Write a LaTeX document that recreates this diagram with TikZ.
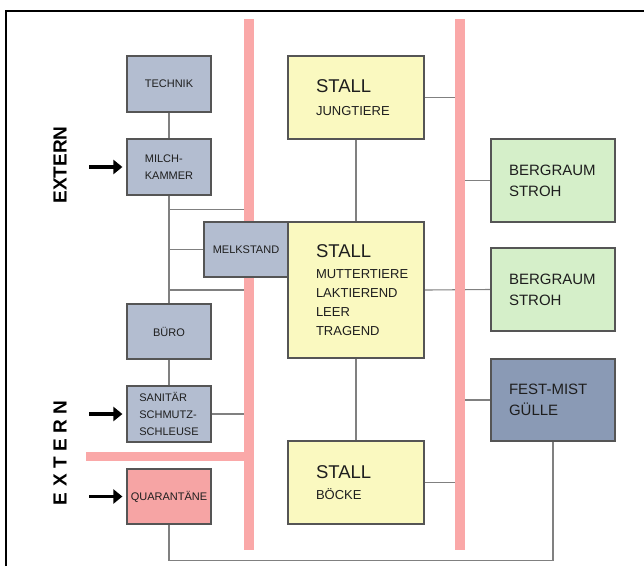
\documentclass[tikz,border=0pt]{standalone}
\usepackage{fontspec}
\setmainfont{Liberation Sans}
\usetikzlibrary{arrows.meta,positioning,backgrounds}
\definecolor{roomgray}{HTML}{B3BDD0}
\definecolor{stallyellow}{HTML}{FAF9C0}
\definecolor{storegreen}{HTML}{D5EFC9}
\definecolor{mistblue}{HTML}{8A9AB5}
\definecolor{quarred}{HTML}{F6A4A4}
\definecolor{wallred}{HTML}{FAA8A8}
\definecolor{boxline}{HTML}{555555}
\definecolor{linkgray}{HTML}{808080}
\definecolor{inktext}{HTML}{1E1E1E}

\begin{document}
\begin{tikzpicture}[x=1pt,y=-1pt,every node/.style={text=inktext},
room/.style={draw=boxline,line width=1.2pt,fill=roomgray,minimum width=84pt,minimum height=56pt,inner sep=0pt,font=\fontsize{11}{17}\selectfont},
stall/.style={draw=boxline,line width=1.2pt,fill=stallyellow,minimum width=136pt,minimum height=83pt,inner xsep=28pt,inner ysep=0pt,text width=80pt,align=left,font=\fontsize{13}{19}\selectfont},
store/.style={draw=boxline,line width=1.2pt,fill=storegreen,minimum width=124pt,minimum height=83pt,inner xsep=18pt,inner ysep=0pt,text width=88pt,align=left,font=\fontsize{15}{21}\selectfont},
link/.style={draw=linkgray,line width=1.1pt},
wall/.style={draw=wallred,line width=10pt},
feed/.style={line width=3.5pt,-{Triangle[length=9pt,width=14pt]},shorten >=4pt},
extern/.style={rotate=90,font=\fontsize{19}{22}\selectfont\bfseries,text=black}]
\useasboundingbox (0,0) rectangle (644,566);
\draw[line width=1.3pt] (6,566) -- (6,11) -- (644,11);
% rooms on the left
\node[room] (technik) at (169,84) {TECHNIK};
\node[room,align=left] (milch) at (169,167) {MILCH-\\KAMMER};
\node[room,minimum height=55pt] (melk) at (246,249.5) {MELKSTAND};
\node[room,minimum height=55pt] (buero) at (169,331.5) {BÜRO};
\node[room,align=left] (sanitaer) at (169,414) {SANITÄR\\SCHMUTZ-\\SCHLEUSE};
\node[room,minimum height=55pt,fill=quarred] (quar) at (169,496.5) {QUARANTÄNE};
% stalls
\node[stall] (stallj) at (356,97.5) {{\fontsize{18.5}{22}\selectfont STALL}\\[4pt]JUNGTIERE};
\node[stall,minimum height=136pt] (stallm) at (356,290) {{\fontsize{18.5}{22}\selectfont STALL}\\[2pt]MUTTERTIERE\\LAKTIEREND\\LEER\\TRAGEND};
\node[stall] (stallb) at (356,482.5) {{\fontsize{18.5}{22}\selectfont STALL}\\[2pt]BÖCKE};
% storage
\node[store] (berg1) at (553,180.5) {BERGRAUM\\STROH};
\node[store] (berg2) at (553,289.5) {BERGRAUM\\STROH};
\node[store,fill=mistblue,minimum height=82pt] (mist) at (553,400) {FEST-MIST\\GÜLLE};
\node[extern] (ext1) at (60,165) {EXTERN};
\node[extern] (ext2) at (60,453) {E\hspace{5.4pt}X\hspace{5.4pt}T\hspace{5.4pt}E\hspace{5.4pt}R\hspace{5.4pt}N};
\coordinate[left=37pt of milch.west] (in1);\coordinate[left=37pt of sanitaer.west] (in2);\coordinate[left=37pt of quar.west] (in3);
\foreach \a/\b in {in1/milch,in2/sanitaer,in3/quar}{\draw[feed] (\a)--(\b.west);}
\coordinate (wltop) at (248.5,19);\coordinate (wlbot) at (248.5,550);
\coordinate (wrtop) at (459.5,19);\coordinate (wrbot) at (459.5,550);
\coordinate (whend) at (86,456);
\begin{pgfonlayer}{background}
\foreach \a/\b in {technik.south/milch.north,milch.south/buero.north,buero.south/sanitaer.north,stallj.south/stallm.north,stallm.south/stallb.north,stallm.east/berg2.west}{\draw[link] (\a)--(\b);}
\foreach \a/\b in {sanitaer.east/wltop,stallj.east/wrtop,berg1.west/wrtop,mist.west/wrtop,stallb.east/wrtop}{\draw[link] (\a)--(\a -| \b);}
\draw[link] (milch.south) ++(0,14) coordinate (tap) -- (tap -| wltop);
\draw[link] (melk.west) -- (melk.west -| milch.south);
\draw[link] (stallm.west -| milch.south) -- (stallm.west -| wltop);
\draw[link] (quar.south) -- ++(0,36) -| (mist.south);
\draw[wall] (wltop) -- (wlbot);
\draw[wall] (wrtop) -- (wrbot);
\draw[wall,line width=9pt] (whend) -- (whend -| wltop);
\end{pgfonlayer}
\end{tikzpicture}
\end{document}
